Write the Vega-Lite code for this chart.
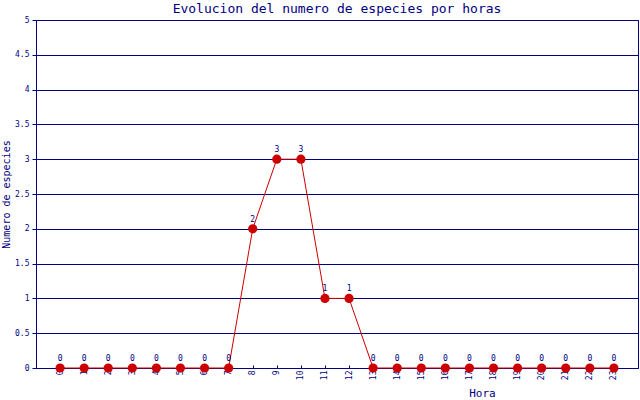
{
  "$schema": "https://vega.github.io/schema/vega-lite/v6.json",
  "width": 602,
  "height": 348,
  "autosize": {"type": "none"},
  "padding": {"left": 36, "top": 20, "right": 2, "bottom": 32},
  "background": "white",
  "view": {"stroke": "#000080", "strokeWidth": 1},
  "title": {"text": "Evolucion del numero de especies por horas", "font": "DejaVu Sans Mono", "fontSize": 13, "fontWeight": "normal", "color": "#000080", "offset": 0},
  "data": {"values": [
    {"hora": 0, "n": 0}, {"hora": 1, "n": 0}, {"hora": 2, "n": 0}, {"hora": 3, "n": 0},
    {"hora": 4, "n": 0}, {"hora": 5, "n": 0}, {"hora": 6, "n": 0}, {"hora": 7, "n": 0},
    {"hora": 8, "n": 2}, {"hora": 9, "n": 3}, {"hora": 10, "n": 3}, {"hora": 11, "n": 1},
    {"hora": 12, "n": 1}, {"hora": 13, "n": 0}, {"hora": 14, "n": 0}, {"hora": 15, "n": 0},
    {"hora": 16, "n": 0}, {"hora": 17, "n": 0}, {"hora": 18, "n": 0}, {"hora": 19, "n": 0},
    {"hora": 20, "n": 0}, {"hora": 21, "n": 0}, {"hora": 22, "n": 0}, {"hora": 23, "n": 0}
  ]},
  "encoding": {
    "x": {"field": "hora", "type": "quantitative", "scale": {"domain": [-1, 24], "nice": false, "zero": false},
      "axis": {"values": [0,1,2,3,4,5,6,7,8,9,10,11,12,13,14,15,16,17,18,19,20,21,22,23], "grid": false, "title": "Hora",
        "titleFont": "DejaVu Sans Mono", "titleFontSize": 11, "titleFontWeight": "normal", "titleColor": "#000080",
        "titleX": 446, "titleY": 25, "titleAlign": "center", "titleBaseline": "middle",
        "labelAngle": 270, "labelAlign": "right", "labelBaseline": "middle", "labelFont": "DejaVu Sans Mono", "labelFontSize": 8, "labelColor": "#000080", "labelPadding": 5,
        "domainColor": "#000080", "tickColor": "#000080", "tickSize": -3, "labelFlush": false, "labelOverlap": false}},
    "y": {"field": "n", "type": "quantitative", "scale": {"domain": [0, 5], "nice": false},
      "axis": {"values": [0, 0.5, 1, 1.5, 2, 2.5, 3, 3.5, 4, 4.5, 5], "format": "~g", "grid": true, "gridColor": "#000080", "gridOpacity": 1, "gridWidth": 1,
        "title": "Numero de especies", "titleFont": "DejaVu Sans Mono", "titleFontSize": 10, "titleFontWeight": "normal", "titleColor": "#000080", "titlePadding": 3,
        "labelFont": "DejaVu Sans Mono", "labelFontSize": 8, "labelColor": "#000080", "labelPadding": 3,
        "domainColor": "#000080", "tickColor": "#000080", "tickSize": 4, "labelFlush": false}}
  },
  "layer": [
    {"mark": {"type": "line", "color": "#cc0000", "strokeWidth": 1}},
    {"mark": {"type": "point", "filled": true, "color": "#cc0000", "size": 85, "opacity": 1}},
    {"mark": {"type": "text", "dy": -9, "font": "DejaVu Sans Mono", "fontSize": 8, "color": "#000080"}, "encoding": {"text": {"field": "n", "type": "quantitative"}}}
  ]
}
